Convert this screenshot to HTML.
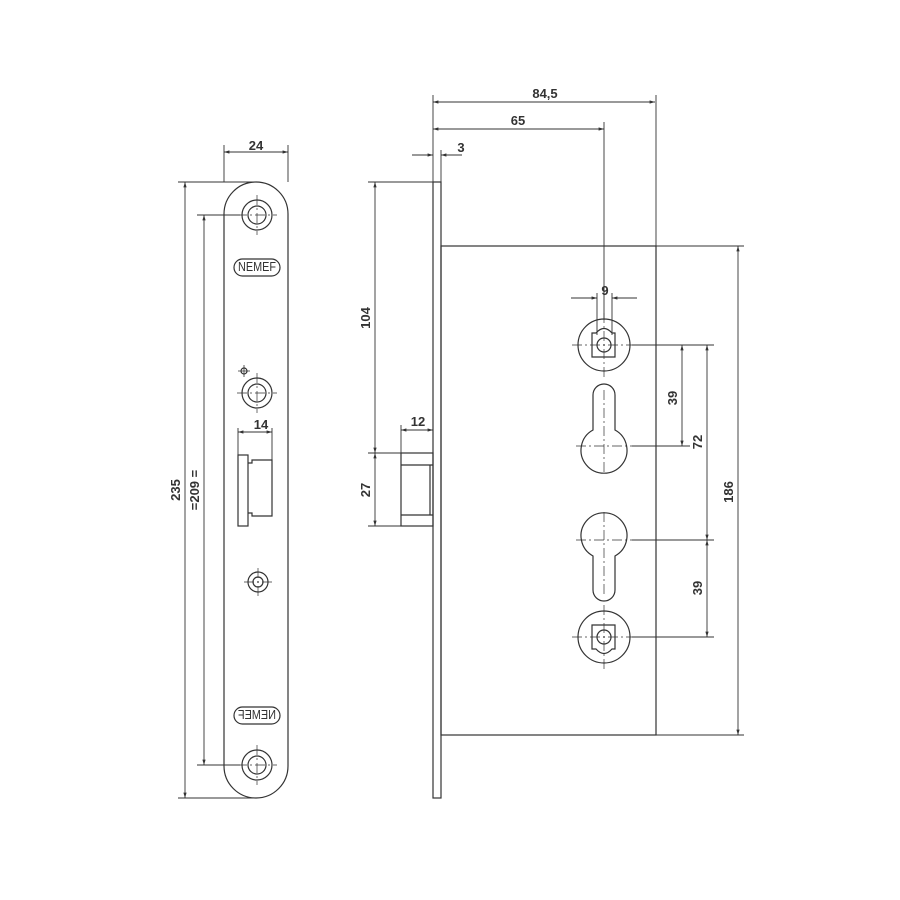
<!DOCTYPE html>
<html><head><meta charset="utf-8"><style>
html,body{margin:0;padding:0;background:#fff;}
svg{display:block}
text{font-family:"Liberation Sans",Arial,sans-serif;font-weight:bold;fill:#333;font-size:13px}
</style></head><body>
<svg width="900" height="900" viewBox="0 0 900 900" xmlns="http://www.w3.org/2000/svg">
<defs>
<marker id="a" viewBox="0 0 10 10" refX="10" refY="5" markerWidth="9" markerHeight="6" orient="auto-start-reverse"><path d="M0,2 L10,5 L0,8 z" fill="#333"/></marker>
</defs>
<g stroke="#333" stroke-width="1.2" fill="none">
<path d="M224,766 V214 A32,32 0 0 1 288,214 V766 A32,32 0 0 1 224,766"/>
<circle cx="257" cy="215" r="15"/><circle cx="257" cy="215" r="9"/>
<circle cx="257" cy="393" r="15"/><circle cx="257" cy="393" r="9"/>
<circle cx="257" cy="765" r="15"/><circle cx="257" cy="765" r="9"/>
<circle cx="258" cy="582" r="10"/><circle cx="258" cy="582" r="5"/>
<circle cx="244" cy="371" r="3"/>
<rect x="234" y="259" width="46" height="17" rx="8.5"/>
<rect x="234" y="707" width="46" height="17" rx="8.5"/>
<rect x="238" y="455" width="10" height="71"/>
<path d="M248,463 h4 v-3 h20 v56 h-20 v-3 h-4"/>
</g>
<g stroke="#333" stroke-width="0.7" fill="none" stroke-dasharray="10,3,2,3">
<path d="M237,215 H277 M257,195 V235"/>
<path d="M237,393 H277 M257,373 V413"/>
<path d="M237,765 H277 M257,745 V785"/>
<path d="M244,582 H272 M258,568 V596"/>
</g>
<g stroke="#333" stroke-width="0.8"><path d="M238,371 H250 M244,365 V377"/></g>
<g stroke="#333" stroke-width="0.9" fill="none">
<path d="M178,182 H255 M197,215 H240 M197,765 H240 M178,798 H255"/>
<path d="M185,182 V798" marker-start="url(#a)" marker-end="url(#a)"/>
<path d="M204,215 V765" marker-start="url(#a)" marker-end="url(#a)"/>
<path d="M224,145 V182 M288,145 V182"/>
<path d="M224,152 H288" marker-start="url(#a)" marker-end="url(#a)"/>
<path d="M238,428 V455 M272,428 V460"/>
<path d="M238,432 H272" marker-start="url(#a)" marker-end="url(#a)"/>
</g>
<text x="256" y="150" text-anchor="middle">24</text>
<text x="261" y="429" text-anchor="middle" font-size="12">14</text>
<text transform="translate(180,490) rotate(-90)" text-anchor="middle">235</text>
<text transform="translate(199,490) rotate(-90)" text-anchor="middle">=209 =</text>
<text x="238" y="271" font-size="9" textLength="38" lengthAdjust="spacingAndGlyphs" style="font-weight:normal">NEMEF</text>
<text transform="translate(257,719) scale(-1,1)" x="-19" font-size="9" textLength="38" lengthAdjust="spacingAndGlyphs" style="font-weight:normal">NEMEF</text>

<g stroke="#333" stroke-width="1.2" fill="none">
<rect x="433" y="182" width="8" height="616"/>
<rect x="441" y="246" width="215" height="489"/>
<rect x="401" y="453" width="32" height="73"/>
<path d="M401,465 H433 M401,515 H433 M430,465 V515"/>
<circle cx="604" cy="345" r="26"/>
<path d="M592,333 h4 q8,-9 16,0 h3 v24 h-23 z"/><circle cx="604" cy="345" r="7"/>
<circle cx="604" cy="637" r="26"/>
<path d="M592,625 h23 v24 h-3 q-8,9 -16,0 h-4 z"/><circle cx="604" cy="637" r="7"/>
<path d="M593,430 V395 A11,11 0 0 1 615,395 V430 A23,23 0 1 1 593,430 Z"/>
<path d="M593,556 V590 A11,11 0 0 0 615,590 V556 A23,23 0 1 0 593,556 Z"/>
</g>
<g stroke="#333" stroke-width="0.7" fill="none" stroke-dasharray="10,3,2,3">
<path d="M572,345 H636 M604,313 V377"/>
<path d="M572,637 H636 M604,605 V669"/>
<path d="M576,446 H632 M604,390 V474"/>
<path d="M576,540 H632 M604,512 V596"/>
</g>
<g stroke="#333" stroke-width="0.9" fill="none">
<path d="M433,95 V182 M656,95 V246"/>
<path d="M433,102 H655" marker-start="url(#a)" marker-end="url(#a)"/>
<path d="M604,122 V320"/>
<path d="M433,129 H604" marker-start="url(#a)" marker-end="url(#a)"/>
<path d="M441,150 V182"/>
<path d="M412,155 H433" marker-end="url(#a)"/>
<path d="M462,155 H441" marker-end="url(#a)"/>
<path d="M368,182 H433"/>
<path d="M375,182 V453" marker-start="url(#a)" marker-end="url(#a)"/>
<path d="M368,453 H401 M368,526 H433"/>
<path d="M375,453 V526" marker-start="url(#a)" marker-end="url(#a)"/>
<path d="M401,425 V453"/>
<path d="M401,430 H433" marker-start="url(#a)" marker-end="url(#a)"/>
<path d="M597,293 V335 M612,293 V335"/>
<path d="M571,298 H597" marker-end="url(#a)"/><path d="M637,298 H612" marker-end="url(#a)"/>
<path d="M632,345 H714 M632,446 H690 M632,540 H714 M632,637 H714 M656,246 H744 M656,735 H744"/>
<path d="M682,345 V446" marker-start="url(#a)" marker-end="url(#a)"/>
<path d="M707,345 V540" marker-start="url(#a)" marker-end="url(#a)"/>
<path d="M707,540 V637" marker-start="url(#a)" marker-end="url(#a)"/>
<path d="M738,246 V735" marker-start="url(#a)" marker-end="url(#a)"/>
</g>
<text x="545" y="98" text-anchor="middle">84,5</text>
<text x="518" y="125" text-anchor="middle">65</text>
<text x="461" y="152" text-anchor="middle">3</text>
<text x="418" y="426" text-anchor="middle">12</text>
<text x="605" y="295" text-anchor="middle">9</text>
<text transform="translate(370,318) rotate(-90)" text-anchor="middle">104</text>
<text transform="translate(370,490) rotate(-90)" text-anchor="middle">27</text>
<text transform="translate(677,398) rotate(-90)" text-anchor="middle">39</text>
<text transform="translate(702,442) rotate(-90)" text-anchor="middle">72</text>
<text transform="translate(702,588) rotate(-90)" text-anchor="middle">39</text>
<text transform="translate(733,492) rotate(-90)" text-anchor="middle">186</text>
</svg>
</body></html>
